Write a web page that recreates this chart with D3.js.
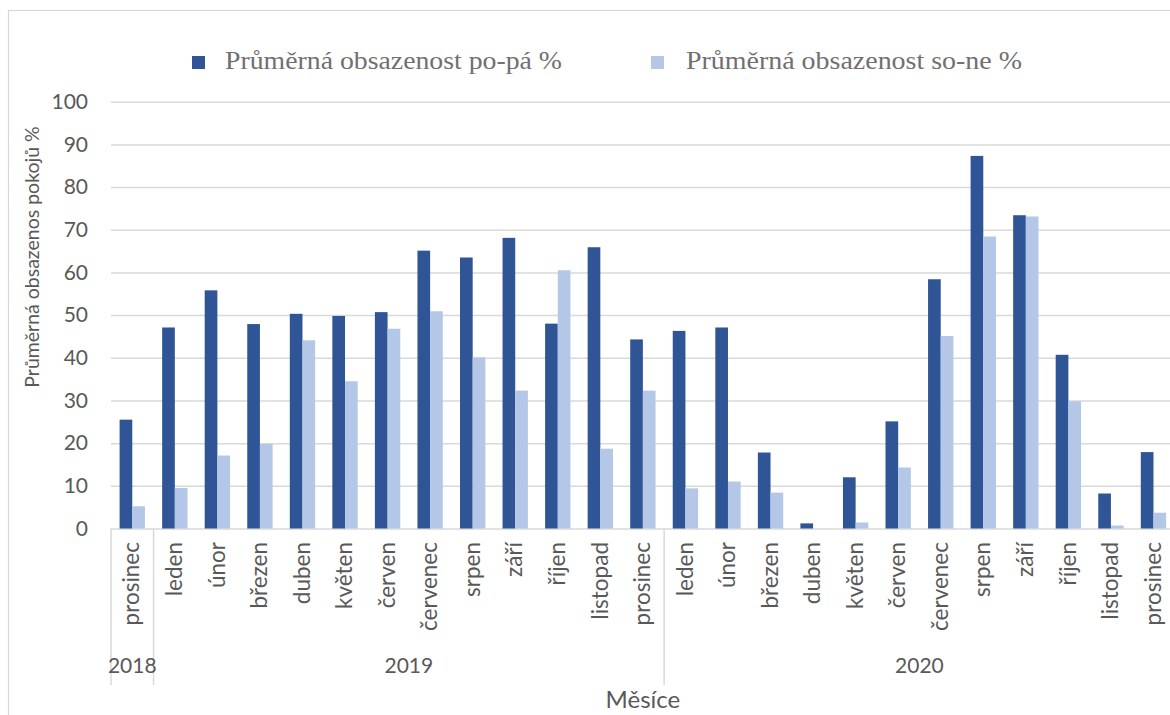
<!DOCTYPE html>
<html lang="cs">
<head>
<meta charset="utf-8">
<script src="https://cdn.jsdelivr.net/npm/d3@7"></script>
<style>
  html, body { margin: 0; padding: 0; background: #fff; }
  svg { display: block; }
</style>
</head>
<body>
<script>
// Měsíce (kategorie osy X) a roky, do kterých spadají
const months = [
  "prosinec",
  "leden", "únor", "březen", "duben", "květen", "červen",
  "červenec", "srpen", "září", "říjen", "listopad", "prosinec",
  "leden", "únor", "březen", "duben", "květen", "červen",
  "červenec", "srpen", "září", "říjen", "listopad", "prosinec"
];
const years = ["2018", "2019", "2020"];
const yearSpans = [1, 12, 12];

// Průměrná obsazenost pokojů v %
const weekdayValues = [
  25.5,
  47.1, 55.8, 47.9, 50.3, 49.8, 50.7, 65.1, 63.5, 68.1, 48.0, 65.9, 44.3,
  46.3, 47.1, 17.8, 1.2, 12.0, 25.1, 58.4, 87.3, 73.4, 40.7, 8.2, 17.9
];
const weekendValues = [
  5.2,
  9.5, 17.1, 19.8, 44.1, 34.5, 46.8, 50.9, 40.1, 32.3, 60.5, 18.7, 32.3,
  9.4, 11.0, 8.4, 0.0, 1.4, 14.3, 45.1, 68.4, 73.1, 29.8, 0.7, 3.7
];
const seriesNames = ["Průměrná obsazenost po-pá %", "Průměrná obsazenost so-ne %"];
const yTicks = [0, 10, 20, 30, 40, 50, 60, 70, 80, 90, 100];
const yTitle = "Průměrná obsazenos pokojů %";
const xTitle = "Měsíce";

const W = 1170, H = 715;
const colors = ["#2F5597", "#B4C7E7"];
const textColor = "#595959";
const gridColor = "#D9D9D9";
const sansFont = "Lato, 'Open Sans', sans-serif";

const plotLeft = 111, catWidth = 42.55;
const plotRight = plotLeft + catWidth * months.length;
const plotTop = 101.7, plotBottom = 528.5;

const svg = d3.select("body").append("svg")
  .attr("width", W).attr("height", H);

svg.append("rect").attr("width", W).attr("height", H).attr("fill", "#fff");

// vnější rámeček grafu
svg.append("rect")
  .attr("x", 8.5).attr("y", 10.5)
  .attr("width", W + 40).attr("height", H + 40)
  .attr("fill", "none").attr("stroke", gridColor).attr("stroke-width", 1.2);

const x = d3.scaleBand()
  .domain(d3.range(months.length))
  .range([plotLeft, plotRight])
  .padding(0);

const xs = d3.scaleBand()
  .domain([0, 1])
  .range([8.6, x.bandwidth() - 8.6])
  .padding(0);

const y = d3.scaleLinear().domain([0, 100]).range([plotBottom, plotTop]);

// osa Y s mřížkou
const yAxis = svg.append("g")
  .attr("transform", `translate(${plotLeft},0)`)
  .call(d3.axisLeft(y)
    .tickValues(yTicks)
    .tickSize(-(plotRight - plotLeft))
    .tickPadding(23)
    .tickFormat(d3.format("d")));
yAxis.select(".domain").remove();
yAxis.selectAll(".tick line")
  .attr("stroke", gridColor).attr("stroke-width", 1.5);
yAxis.selectAll(".tick text")
  .attr("fill", textColor)
  .style("font-family", sansFont)
  .style("font-size", "21px");

// sloupce
const series = [weekdayValues, weekendValues];
series.forEach((vals, s) => {
  svg.append("g").selectAll("rect")
    .data(vals)
    .join("rect")
    .attr("x", (d, i) => x(i) + xs(s))
    .attr("width", xs.bandwidth())
    .attr("y", d => y(d))
    .attr("height", d => y(0) - y(d))
    .attr("fill", colors[s]);
});

// víceúrovňová osa X: oddělovače skupin (roků)
const bounds = [0];
yearSpans.forEach(n => bounds.push(bounds[bounds.length - 1] + n));
svg.append("g").selectAll("line")
  .data(bounds)
  .join("line")
  .attr("x1", d => d < months.length ? x(d) : plotRight)
  .attr("x2", d => d < months.length ? x(d) : plotRight)
  .attr("y1", plotBottom)
  .attr("y2", 685)
  .attr("stroke", gridColor).attr("stroke-width", 1.5);

// popisky měsíců (svisle)
svg.append("g").selectAll("text")
  .data(months)
  .join("text")
  .attr("transform", (d, i) => `translate(${x(i) + x.bandwidth() / 2},542) rotate(-90)`)
  .attr("text-anchor", "end")
  .attr("dy", "0.32em")
  .attr("fill", textColor)
  .style("font-family", sansFont)
  .style("font-size", "22.5px")
  .text(d => d);

// popisky roků
svg.append("g").selectAll("text")
  .data(years)
  .join("text")
  .attr("x", (d, i) => {
    const a = bounds[i] < months.length ? x(bounds[i]) : plotRight;
    const b = bounds[i + 1] < months.length ? x(bounds[i + 1]) : plotRight;
    return (a + b) / 2;
  })
  .attr("y", 673)
  .attr("text-anchor", "middle")
  .attr("fill", textColor)
  .style("font-family", sansFont)
  .style("font-size", "21px")
  .text(d => d);

// název osy X
svg.append("text")
  .attr("x", (plotLeft + plotRight) / 2)
  .attr("y", 708)
  .attr("text-anchor", "middle")
  .attr("fill", textColor)
  .style("font-family", sansFont)
  .style("font-size", "24px")
  .text(xTitle);

// název osy Y
svg.append("text")
  .attr("transform", "translate(39,257) rotate(-90)")
  .attr("text-anchor", "middle")
  .attr("fill", textColor)
  .style("font-family", sansFont)
  .style("font-size", "19.5px")
  .text(yTitle);

// legenda
const legendItems = [
  { sx: 192, tx: 225, len: 337 },
  { sx: 651, tx: 686, len: 336 }
];
const legend = svg.append("g");
legendItems.forEach((it, s) => {
  legend.append("rect")
    .attr("x", it.sx).attr("y", 56)
    .attr("width", 13).attr("height", 13)
    .attr("fill", colors[s]);
  legend.append("text")
    .attr("x", it.tx).attr("y", 69)
    .attr("fill", "#707070")
    .attr("textLength", it.len)
    .attr("lengthAdjust", "spacingAndGlyphs")
    .style("font-family", "'Liberation Serif', 'Times New Roman', serif")
    .style("font-size", "26px")
    .text(seriesNames[s]);
});
</script>
</body>
</html>
